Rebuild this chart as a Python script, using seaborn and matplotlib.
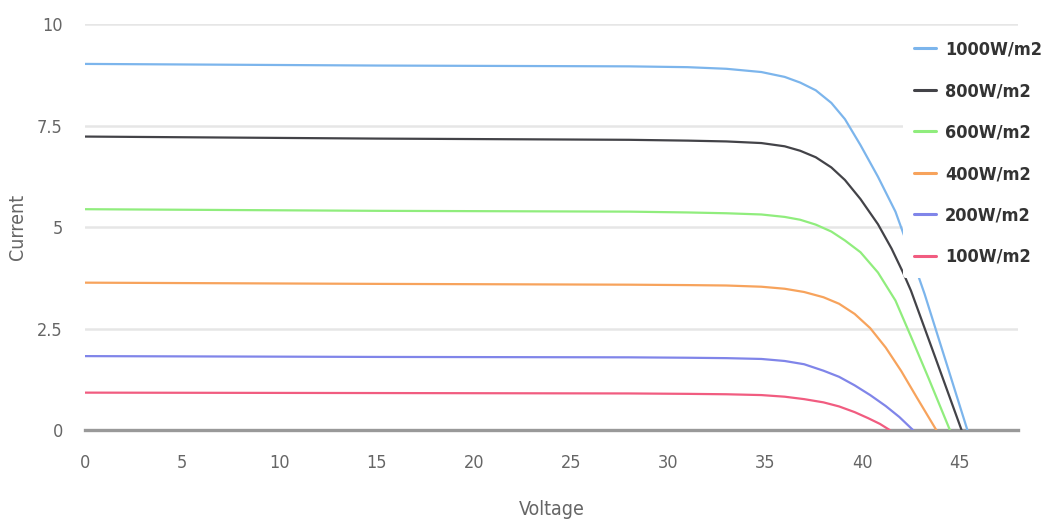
import pandas as pd
import seaborn as sns
import matplotlib.pyplot as plt

# I-V curves for different irradiance levels
labels = ['1000W/m2', '800W/m2', '600W/m2', '400W/m2', '200W/m2', '100W/m2']
colors = ['#7cb5ec', '#434348', '#90ed7d', '#f7a35c', '#8085e9', '#f15c80']

v_1000 = [0, 15, 28, 31, 33, 34.8, 36.0, 36.8, 37.6, 38.4, 39.1, 39.9, 40.8, 41.7, 42.4, 43.2, 44.3, 45.4]
i_1000 = [9.02, 8.98, 8.96, 8.94, 8.90, 8.82, 8.70, 8.56, 8.37, 8.06, 7.66, 7.02, 6.24, 5.38, 4.45, 3.35, 1.68, 0]

v_800 = [0, 15, 28, 31, 33, 34.8, 36.0, 36.8, 37.6, 38.4, 39.1, 39.9, 40.8, 41.5, 42.1, 42.5, 43.8, 45.1]
i_800 = [7.23, 7.18, 7.15, 7.13, 7.11, 7.07, 6.99, 6.88, 6.72, 6.47, 6.16, 5.69, 5.07, 4.47, 3.87, 3.43, 1.72, 0]

v_600 = [0, 15, 28, 31, 33, 34.8, 36.0, 36.8, 37.6, 38.4, 39.1, 39.9, 40.8, 41.7, 42.5, 43.4, 44.5]
i_600 = [5.44, 5.40, 5.38, 5.36, 5.34, 5.31, 5.25, 5.18, 5.06, 4.89, 4.67, 4.38, 3.88, 3.19, 2.30, 1.28, 0]

v_400 = [0, 15, 28, 31, 33, 34.8, 36.0, 37.0, 38.0, 38.8, 39.6, 40.4, 41.2, 42.0, 42.8, 43.8]
i_400 = [3.63, 3.60, 3.58, 3.57, 3.56, 3.53, 3.48, 3.40, 3.27, 3.11, 2.86, 2.51, 2.03, 1.45, 0.80, 0]

v_200 = [0, 15, 28, 31, 33, 34.8, 36.0, 37.0, 38.0, 38.8, 39.6, 40.4, 41.2, 41.9, 42.6]
i_200 = [1.82, 1.80, 1.79, 1.78, 1.77, 1.75, 1.70, 1.62, 1.46, 1.31, 1.10, 0.86, 0.59, 0.32, 0]

v_100 = [0, 15, 28, 31, 33, 34.8, 36.0, 37.0, 38.0, 38.8, 39.6, 40.3, 40.9, 41.4]
i_100 = [0.92, 0.91, 0.90, 0.89, 0.88, 0.86, 0.82, 0.76, 0.68, 0.58, 0.44, 0.29, 0.15, 0]

x_ticks = [0, 5, 10, 15, 20, 25, 30, 35, 40, 45]
y_ticks = [0, 2.5, 5, 7.5, 10]
y_tick_labels = ['0', '2.5', '5', '7.5', '10']

series = [(v_1000, i_1000), (v_800, i_800), (v_600, i_600),
          (v_400, i_400), (v_200, i_200), (v_100, i_100)]

rows = []
for name, (vs, cs) in zip(labels, series):
    for v, c in zip(vs, cs):
        rows.append({'Voltage': v, 'Current': c, 'Irradiance': name})
df = pd.DataFrame(rows)

sns.set_style('white')
plt.rcParams['font.family'] = ['DejaVu Sans']
plt.rcParams['font.stretch'] = 'condensed'

fig = plt.figure(figsize=(10.47, 5.25), dpi=100)
ax = fig.add_axes([0.0812, 0.181, 0.891, 0.773])

sns.lineplot(data=df, x='Voltage', y='Current', hue='Irradiance',
             hue_order=labels, palette=colors, sort=False, estimator=None,
             linewidth=1.6, ax=ax)

ax.set_xlim(0, 48)
ax.set_ylim(0, 10)
ax.set_xticks(x_ticks)
ax.set_yticks(y_ticks)
ax.set_yticklabels(y_tick_labels)

ax.yaxis.grid(True, color='#e6e6e6', linewidth=1.8)
ax.xaxis.grid(False)
ax.set_axisbelow(True)

for side in ['top', 'right', 'left']:
    ax.spines[side].set_visible(False)
ax.spines['bottom'].set_color('#999999')
ax.spines['bottom'].set_linewidth(2.4)
ax.spines['bottom'].set_zorder(1)

ax.tick_params(axis='x', colors='#ccd6eb', length=8, width=0.8, direction='out',
               labelcolor='#666666', labelsize=13, pad=9.5)
ax.tick_params(axis='y', length=0, labelcolor='#666666', labelsize=13, pad=16)

ax.set_xlabel('Voltage', color='#666666', fontsize=14)
ax.set_ylabel('Current', color='#666666', fontsize=14)
ax.xaxis.set_label_coords(0.5, -0.172)
ax.yaxis.set_label_coords(-0.062, 0.5)

leg = ax.legend(loc='upper left', bbox_to_anchor=(0.862, 0.945),
                bbox_transform=fig.transFigure, frameon=True, facecolor='white',
                edgecolor='none', framealpha=1, borderaxespad=0, borderpad=0.65,
                handlelength=1.2, handletextpad=0.5, labelspacing=1.3,
                prop={'weight': 'bold', 'size': 13, 'stretch': 'condensed'})
for txt in leg.get_texts():
    txt.set_color('#333333')
for line in leg.get_lines():
    line.set_linewidth(2.2)

plt.savefig('out.png', dpi=100)
